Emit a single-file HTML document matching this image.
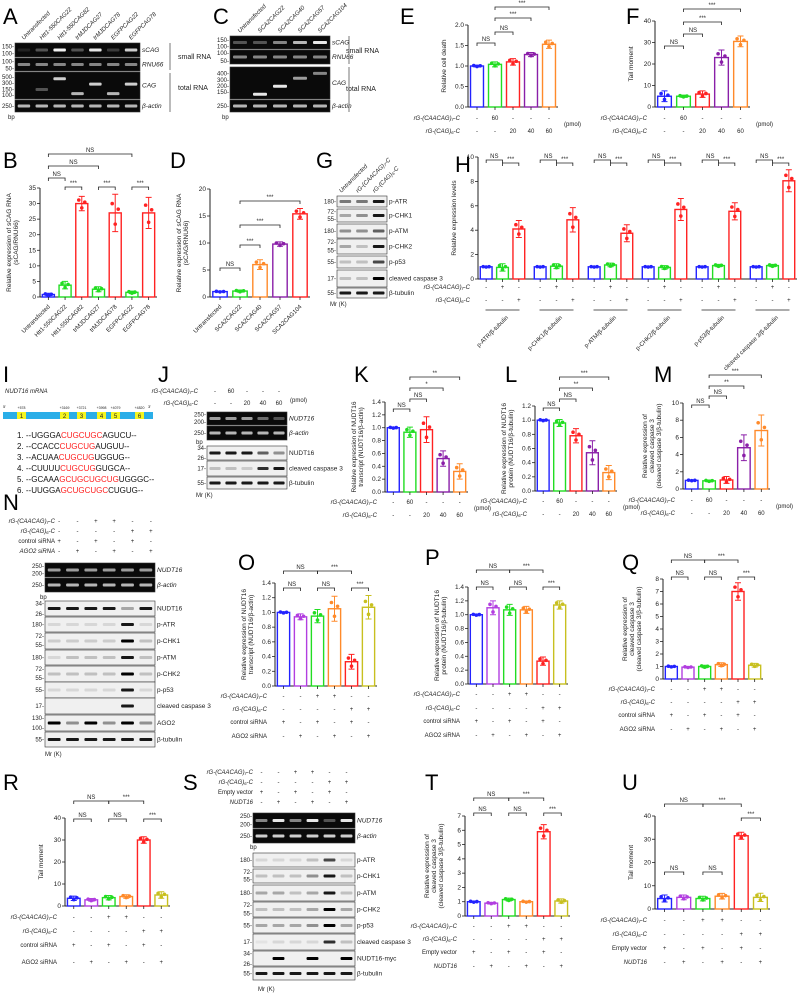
<!DOCTYPE html>
<html><head><meta charset="utf-8">
<style>
html,body{margin:0;padding:0;background:#fff;}
svg{display:block;font-family:"Liberation Sans",Arial,sans-serif;}
.pl{font-size:22px;}
.t{font-size:6px;fill:#222;}
.tk{font-size:6.5px;fill:#222;}
.it{font-style:italic;}
</style></head>
<body>
<svg id="fig" width="797" height="993" viewBox="0 0 797 993" xmlns="http://www.w3.org/2000/svg">
<g id="labels">
<text class="pl" x="3" y="24">A</text><text class="pl" x="213" y="24">C</text>
<text class="pl" x="400" y="24">E</text><text class="pl" x="626" y="24">F</text>
<text class="pl" x="3" y="168">B</text><text class="pl" x="170" y="168">D</text>
<text class="pl" x="316" y="168">G</text><text class="pl" x="455" y="172">H</text>
<text class="pl" x="3" y="382">I</text><text class="pl" x="158" y="382">J</text>
<text class="pl" x="354" y="382">K</text><text class="pl" x="505" y="382">L</text>
<text class="pl" x="654" y="382">M</text><text class="pl" x="3" y="510">N</text>
<text class="pl" x="238" y="570">O</text><text class="pl" x="425" y="565">P</text>
<text class="pl" x="622" y="570">Q</text><text class="pl" x="3" y="790">R</text>
<text class="pl" x="183" y="790">S</text><text class="pl" x="425" y="790">T</text>
<text class="pl" x="622" y="790">U</text>
</g>
<g id="mrna">
<text class="t it" x="5" y="393">NUDT16 mRNA</text>
<text class="t" x="3" y="408" style="font-size:4px">5'</text><text class="t" x="148" y="408" style="font-size:4px">3'</text>
<rect x="3" y="412" width="150" height="7" fill="#2aaee8"/>
</g>
</svg>
<script>
// ---------- chart data ----------
const bVals=[0.8,3.8,30,2.5,27,1.5,27];
const bErr=[0.4,1.2,2.3,0.8,6,0.4,5];
const dVals=[1,1.1,6,9.8,15.4];
const dErr=[0.1,0.2,0.9,0.4,1];
const eVals=[1,1.04,1.1,1.28,1.53];
const eErr=[0.02,0.06,0.08,0.05,0.1];
const fVals=[5,5,6,23,30.5];
const fErr=[2.5,0.5,1.5,3.5,2.5];
const hVals=[1,0.95,4.1,1,1.05,4.85,1,1.15,3.75,1,0.95,5.7,1,1.1,5.55,1,1.1,8.05];
const hErr=[0.03,0.3,0.7,0.03,0.2,1,0.03,0.15,0.7,0.03,0.15,0.9,0.03,0.1,0.7,0.03,0.1,0.9];
const kVals=[1,0.93,0.97,0.52,0.32];
const kErr=[0.01,0.08,0.2,0.12,0.12];
const lVals=[1,0.96,0.78,0.54,0.26];
const lErr=[0.01,0.05,0.1,0.17,0.1];
const mVals=[1,0.95,1.05,4.8,6.8];
const mErr=[0.05,0.1,0.4,1.5,1.8];
const oVals=[1,0.94,0.95,1.05,0.33,1.07];
const oErr=[0.01,0.04,0.09,0.17,0.1,0.16];
const pVals=[1,1.1,1.07,1.07,0.33,1.14];
const pErr=[0.01,0.1,0.08,0.05,0.06,0.06];
const qVals=[1,0.95,1.0,1.15,7,1.1];
const qErr=[0.05,0.05,0.1,0.15,0.7,0.15];
const rVals=[3.5,2.8,3.8,4.3,30,5];
const rErr=[1,0.6,1,0.8,1.5,1.5];
const tVals=[1,0.9,1.15,1.0,5.9,1.05];
const tErr=[0.05,0.05,0.1,0.05,0.5,0.15];
const uVals=[4.5,5,4.5,5.5,31.5,5];
const uErr=[1.5,1,1,1.2,1.5,1.8];
const bCats=["Untransfected","Htt1-550CAG22","Htt1-550CAG82","trMJDCAG27","trMJDCAG78","EGFPCAG22","EGFPCAG78"];
const dCats=["Untransfected","SCA2CAG22","SCA2CAG40","SCA2CAG57","SCA2CAG104"];
const hCats=["p-ATR/β-tubulin","p-CHK1/β-tubulin","p-ATM/β-tubulin","p-CHK2/β-tubulin","p-p53/β-tubulin","cleaved caspase 3/β-tubulin"];
const doseRowsA=["-","60","-","-","-"];
const doseRowsB=["-","-","20","40","60"];
const sixA=["-","-","+","+","-","-"];
const sixB=["-","-","-","-","+","+"];
const sixC=["+","-","+","-","+","-"];
const sixD=["-","+","-","+","-","+"];
const hA=["-","+","-"], hB=["-","-","+"];

const B="#2222ff",G="#22dd22",R="#ff2222",O="#ff8a2a",P="#8a1fa8",V="#b23ee0",Y="#c8c020";
const svg=document.getElementById('fig');
const NS="http://www.w3.org/2000/svg";
function mk(tag,at,parent){const e=document.createElementNS(NS,tag);for(const k in at)e.setAttribute(k,at[k]);(parent||svg).appendChild(e);return e;}
function txt(x,y,s,cls,anchor,parent,extra){const e=mk('text',Object.assign({x:x,y:y,class:cls||'t','text-anchor':anchor||'start'},extra||{}),parent);e.textContent=s;return e;}

function chart(id,c){
  const g=mk('g',{});
  
  
  const n=c.vals.length, gs=c.group||n, ng=Math.ceil(n/gs);
  const gap=c.ggap||0;
  const slot=(c.xEnd-c.x0-gap*(ng-1))/n;
  const xc=i=>c.x0+slot*(i+0.5)+gap*Math.floor(i/gs);
  const ys=v=>c.yBot-(v/c.ymax)*(c.yBot-c.yTop);
  mk('line',{x1:c.x0,y1:c.yTop,x2:c.x0,y2:c.yBot,stroke:'#222','stroke-width':1},g);
  mk('line',{x1:c.x0,y1:c.yBot,x2:c.xEnd,y2:c.yBot,stroke:'#222','stroke-width':1},g);
  for(let v=0;v<=c.ymax+1e-9;v+=c.step){
    const y=ys(v);
    mk('line',{x1:c.x0-3,y1:y,x2:c.x0,y2:y,stroke:'#222','stroke-width':0.8},g);
    txt(c.x0-4,y+2,c.fmt?v.toFixed(c.fmt):String(Math.round(v)),'tk','end',g);
  }
  if(c.ylab){const lines=c.ylab;lines.forEach((l,k)=>{
    const lx=c.x0-22-(lines.length-1-k)*7;const ly=(c.yTop+c.yBot)/2;
    txt(lx,ly,l,'t','middle',g,{transform:`rotate(-90 ${lx} ${ly})`,style:'font-size:6.5px'});});}
  const bw=slot*0.72;
  c.vals.forEach((v,i)=>{
    const col=c.cols[i%c.cols.length];const x=xc(i);const y=ys(v);
    const r=mk('rect',{x:x-bw/2,y:y,width:bw,height:c.yBot-y,fill:'#fff',stroke:col,'stroke-width':1.4},g);
    
    
    const e=c.errs[i];
    mk('path',{d:`M${x} ${ys(v+e)}V${ys(Math.max(0,v-e))}M${x-3} ${ys(v+e)}h6M${x-3} ${ys(Math.max(0,v-e))}h6`,stroke:col,'stroke-width':1,fill:'none'},g);
    [-2.5,0,2.5].forEach((dx,k)=>{const dv=[0.5,-0.6,0.2][k]*e;
      mk('circle',{cx:x+dx*bw/10,cy:ys(Math.max(0,v+dv)),r:1.8,fill:col},g);});
    mk('line',{x1:x,y1:c.yBot,x2:x,y2:c.yBot+3,stroke:'#222','stroke-width':0.8},g);
  });
  if(c.rows){c.rows.forEach((row,k)=>{
    const y=c.rowY[k];
    if(c.rowLab)txt(c.x0-(c.rowLabDx||8),y,c.rowLab[k],'t'+(c.rowIt&&c.rowIt[k]?' it':''),'end',g);
    row.forEach((s,i)=>txt(xc(i),y,s,'t','middle',g));
    if(c.unit&&k===c.unitRow)txt(c.xEnd+6,y+(c.unitDy||0),c.unit,'t','start',g);
  });}
  if(c.cats){c.cats.forEach((s,i)=>{const x=xc(i)+2,y=c.yBot+10;
    txt(x,y,s,'t','end',g,{transform:`rotate(-45 ${x} ${y})`});});}
  if(c.br){c.br.forEach(b=>{const x1=xc(b[0]),x2=xc(b[1]),y=b[3];
    mk('path',{d:`M${x1} ${y+3}V${y}H${x2}V${y+3}`,stroke:'#222','stroke-width':0.8,fill:'none'},g);
    txt((x1+x2)/2,y-2,b[2],'t','middle',g);});}
  return {xc,ys};
}

chart('chart-b',{x0:40,xEnd:157,yTop:188,yBot:297,ymax:35,step:5,vals:bVals,errs:bErr,cols:[B,G,R,G,R,G,R],
  ylab:["Relative expression of sCAG RNA","(sCAG/RNU66)"],cats:bCats,
  br:[[0,1,"NS",178],[0,3,"NS",166],[0,5,"NS",154],[1,2,"***",187],[3,4,"***",187],[5,6,"***",187]]});
chart('chart-d',{x0:210,xEnd:310,yTop:189,yBot:297,ymax:20,step:5,vals:dVals,errs:dErr,cols:[B,G,O,P,R],
  ylab:["Relative expression of sCAG RNA","(sCAG/RNU66)"],cats:dCats,
  br:[[0,1,"NS",268],[1,2,"***",245],[1,3,"***",225],[1,4,"***",201]]});
chart('chart-e',{x0:468,xEnd:558,yTop:25,yBot:107,ymax:2,step:0.5,fmt:1,vals:eVals,errs:eErr,cols:[B,G,R,P,O],
  ylab:["Relative cell death"],rows:[doseRowsA,doseRowsB],rowY:[120,133],rowLab:["rG-(CAACAG)₇-C","rG-(CAG)₆-C"],rowIt:[1,1],unit:"(pmol)",unitRow:0,unitDy:6,
  br:[[0,1,"NS",43],[1,2,"NS",32],[1,3,"***",18],[1,4,"***",7]]});
chart('chart-f',{x0:655,xEnd:750,yTop:21,yBot:107,ymax:40,step:10,vals:fVals,errs:fErr,cols:[B,G,R,P,O],
  ylab:["Tail moment"],rows:[doseRowsA,doseRowsB],rowY:[120,133],rowLab:["rG-(CAACAG)₇-C","rG-(CAG)₆-C"],rowIt:[1,1],unit:"(pmol)",unitRow:0,unitDy:6,
  br:[[0,1,"NS",46],[1,2,"NS",34],[1,3,"***",22],[1,4,"***",9]]});
chart('chart-h',{x0:478,xEnd:797,yTop:157,yBot:279,ymax:10,step:2,vals:hVals,errs:hErr,cols:[B,G,R],group:3,ggap:5,
  ylab:["Relative expression levels"],rows:[hA.concat(hA,hA,hA,hA,hA),hB.concat(hB,hB,hB,hB,hB)],rowY:[289,302],rowLab:["rG-(CAACAG)₇-C","rG-(CAG)₆-C"],rowIt:[1,1],
  br:[[0,1,"NS",160],[1,2,"***",163],[3,4,"NS",160],[4,5,"***",163],[6,7,"NS",160],[7,8,"***",163],[9,10,"NS",160],[10,11,"***",163],[12,13,"NS",160],[13,14,"***",163],[15,16,"NS",160],[16,17,"***",163]]});
(function(){const g=svg.lastChild;const slot=(797-478-25)/18;
  hCats.forEach((s,k)=>{const xm=478+slot*(3*k+1.5)+5*k;
    mk('line',{x1:xm-17,y1:310,x2:xm+17,y2:310,stroke:'#222','stroke-width':0.8},g);
    txt(xm+6,318,s,'t','end',g,{transform:`rotate(-45 ${xm+6} 318)`});});})();
chart('chart-k',{x0:385,xEnd:468,yTop:402,yBot:492,ymax:1.4,step:0.2,fmt:1,vals:kVals,errs:kErr,cols:[B,G,R,P,O],
  ylab:["Relative expression of NUDT16","transcript (NUDT16/β-actin)"],rows:[doseRowsA,doseRowsB],rowY:[504,517],rowLab:["rG-(CAACAG)₇-C","rG-(CAG)₆-C"],rowIt:[1,1],unit:"(pmol)",unitRow:0,unitDy:6,
  br:[[0,1,"NS",409],[1,2,"NS",399],[1,3,"*",388],[1,4,"**",377]]});
chart('chart-l',{x0:535,xEnd:617,yTop:406,yBot:491,ymax:1.2,step:0.2,fmt:1,vals:lVals,errs:lErr,cols:[B,G,R,P,O],
  ylab:["Relative expression of NUDT16","protein (NUDT16/β-tubulin)"],rows:[doseRowsA,doseRowsB],rowY:[503,516],rowLab:["rG-(CAACAG)₇-C","rG-(CAG)₆-C"],rowIt:[1,1],unit:"(pmol)",unitRow:0,unitDy:6,
  br:[[0,1,"NS",408],[1,2,"NS",399],[1,3,"**",388],[1,4,"***",377]]});
chart('chart-m',{x0:683,xEnd:770,yTop:403,yBot:489,ymax:10,step:2,vals:mVals,errs:mErr,cols:[B,G,R,P,O],
  ylab:["Relative expression of","cleaved caspase 3","(cleaved caspase 3/β-tubulin)"],rows:[doseRowsA,doseRowsB],rowY:[502,515],rowLab:["rG-(CAACAG)₇-C","rG-(CAG)₆-C"],rowIt:[1,1],unit:"(pmol)",unitRow:0,unitDy:6,
  br:[[0,1,"NS",405],[1,2,"NS",396],[1,3,"**",386],[1,4,"***",375]]});
const sixLab=["rG-(CAACAG)₇-C","rG-(CAG)₆-C","control siRNA","AGO2 siRNA"];
const sixLabS=["rG-(CAACAG)₇-C","rG-(CAG)₆-C","Empty vector","NUDT16"];
chart('chart-o',{x0:275,xEnd:377,yTop:583,yBot:686,ymax:1.4,step:0.2,fmt:1,vals:oVals,errs:oErr,cols:[B,V,G,O,R,Y],
  ylab:["Relative expression of NUDT16","transcript (NUDT16/β-actin)"],rows:[sixA,sixB,sixC,sixD],rowY:[698,711,724,738],rowLab:sixLab,rowIt:[1,1,0,0],
  br:[[0,1,"NS",588],[2,3,"NS",588],[4,5,"***",588],[0,2,"NS",571],[2,4,"***",571]]});
chart('chart-p',{x0:468,xEnd:568,yTop:587,yBot:684,ymax:1.4,step:0.2,fmt:1,vals:pVals,errs:pErr,cols:[B,V,G,O,R,Y],
  ylab:["Relative expression of NUDT16","protein (NUDT16/β-tubulin)"],rows:[sixA,sixB,sixC,sixD],rowY:[696,710,723,737],rowLab:sixLab,rowIt:[1,1,0,0],
  br:[[0,1,"NS",587],[2,3,"NS",587],[4,5,"***",587],[0,2,"NS",570],[2,4,"***",570]]});
chart('chart-q',{x0:663,xEnd:763,yTop:579,yBot:679,ymax:8,step:1,vals:qVals,errs:qErr,cols:[B,V,G,O,R,Y],
  ylab:["Relative expression of","cleaved caspase 3","(cleaved caspase 3/β-tubulin)"],rows:[sixA,sixB,sixC,sixD],rowY:[691,704,717,731],rowLab:sixLab,rowIt:[1,1,0,0],
  br:[[0,1,"NS",577],[2,3,"NS",577],[4,5,"***",577],[0,2,"NS",560],[2,4,"***",560]]});
chart('chart-r',{x0:65,xEnd:170,yTop:818,yBot:906,ymax:40,step:10,vals:rVals,errs:rErr,cols:[B,V,G,O,R,Y],
  ylab:["Tail moment"],rows:[sixA,sixB,sixC,sixD],rowY:[919,933,947,964],rowLab:sixLab,rowIt:[1,1,0,0],
  br:[[0,1,"NS",819],[2,3,"NS",819],[4,5,"***",819],[0,2,"NS",801],[2,4,"***",801]]});
chart('chart-t',{x0:465,xEnd:570,yTop:816,yBot:916,ymax:7,step:1,vals:tVals,errs:tErr,cols:[B,V,G,O,R,Y],
  ylab:["Relative expression of","cleaved caspase 3","(cleaved caspase 3/β-tubulin)"],rows:[sixA,sixB,sixC,sixD],rowY:[928,941,954,968],rowLab:sixLabS,rowIt:[1,1,0,1],
  br:[[0,1,"NS",813],[2,3,"NS",813],[4,5,"***",813],[0,2,"NS",798],[2,4,"***",798]]});
chart('chart-u',{x0:655,xEnd:770,yTop:816,yBot:909,ymax:40,step:10,vals:uVals,errs:uErr,cols:[B,V,G,O,R,Y],
  ylab:["Tail moment"],rows:[sixA,sixB,sixC,sixD],rowY:[922,936,950,964],rowLab:sixLabS,rowIt:[1,1,0,1],
  br:[[0,1,"NS",872],[2,3,"NS",872],[4,5,"***",818],[0,2,"NS",804],[2,4,"***",804]]});

// ---------- blots ----------
function blot(name,x,w,rows,lanes){
  const g=mk('g',{});
  
  
  rows.forEach(r=>{
    const [y,h,dark,lab,mark,ints,it,pos]=r;
    mk('rect',{x:x,y:y,width:w,height:h,fill:dark?'#0a0a0a':'#f0f0f0',stroke:'#333','stroke-width':0.6},g);
    const lw=w/lanes;
    for(let i=0;i<lanes;i++){const a=ints[i]!==undefined?ints[i]:ints[0];
      const cy=pos?y+h*pos[i]:y+h/2;
      if(a>0)mk('rect',{x:x+lw*i+lw*0.15,y:cy-1.5,width:lw*0.7,height:3,rx:1,fill:dark?'#fff':'#000','fill-opacity':a},g);}
    txt(x+w+2,y+h/2+2,lab,'t'+(it?' it':''),'start',g,{style:'font-size:6.5px'});
    if(Array.isArray(mark)){mark.forEach(m=>txt(x-1,y+h*m[1]+2,m[0]+'-','t','end',g));}
    else if(mark)txt(x-1,y+h/2+2,mark,'t','end',g);
  });
  return g;
}
blot('gel-a',15,125,[[43,14,1,'sCAG',[['150',0.25],['100',0.75]],[0.1,0.3,0.95,0.3,0.9,0.2,0.8],1],[58,13,1,'RNU66',[['100',0.25],['50',0.8]],[0.5],1],[72,27,1,'CAG',[['500',0.18],['300',0.4],['150',0.65],['100',0.85]],[0,0.3,0.8,0.7,0.8,0.7,0.8],1,[0.5,0.65,0.25,0.8,0.45,0.8,0.45]],[100,12,1,'β-actin','250-',[0.7],1]],7);
blot('gel-c',230,100,[[36,13,1,'sCAG',[['150',0.3],['100',0.8]],[0.3,0.3,0.5,0.7,0.9],1],[50,14,1,'RNU66',[['100',0.2],['50',0.8]],[0.5],1],[67,32,1,'CAG',[['400',0.2],['300',0.4],['200',0.6],['150',0.78]],[0,0.9,0.9,0.6,0.5],1,[0.5,0.85,0.6,0.35,0.2]],[100,12,1,'β-actin','250-',[0.7],1]],5);
blot('blot-g',337,50,[[196,11,0,'p-ATR','180-',[0.5,0.5,0.9]],[209,13,0,'p-CHK1',[['72',0.2],['55',0.75]],[0.3,0.4,0.9]],[224,14,0,'p-ATM','180-',[0.4,0.4,0.6]],[239,15,0,'p-CHK2',[['72',0.2],['55',0.75]],[0.3,0.2,0.9]],[256,12,0,'p-p53','55-',[0.2,0.2,0.7]],[270,17,0,'cleaved caspase 3','17-',[0.2,0.2,1]],[288,10,0,'β-tubulin','55-',[0.9]]],3);
blot('blot-j',207,80,[[412,13,1,'NUDT16',[['250',0.2],['200',0.75]],[0.6,0.6,0.6,0.4,0.3],1],[426,14,1,'β-actin','250-',[0.7],1],[446,14,0,'NUDT16',[['34',0.15],['26',0.85]],[0.9,0.9,0.9,0.6,0.4]],[461,15,0,'cleaved caspase 3','17-',[0.2,0.2,0.15,0.8,0.9]],[477,12,0,'β-tubulin','55-',[0.9]]],5);
blot('blot-n',45,110,[[563,14,1,'NUDT16',[['250',0.2],['200',0.75]],[0.6],1],[578,14,1,'β-actin','250-',[0.7],1],[601,15,0,'NUDT16',[['34',0.15],['26',0.85]],[0.9,0.9,0.9,0.9,0.3,0.9]],[617,15,0,'p-ATR','180-',[0.1,0.1,0.1,0.1,0.9,0.1]],[633,16,0,'p-CHK1',[['72',0.2],['55',0.75]],[0.15,0.15,0.15,0.15,1,0.2]],[650,15,0,'p-ATM','180-',[0.1,0.2,0.2,0.2,0.9,0.2]],[666,16,0,'p-CHK2',[['72',0.2],['55',0.75]],[0.2,0.2,0.2,0.2,1,0.2]],[682,16,0,'p-p53','55-',[0.1,0.1,0.1,0.1,0.9,0.1]],[698,16,0,'cleaved caspase 3','17-',[0,0,0,0,0.9,0]],[715,16,0,'AGO2',[['130',0.2],['100',0.8]],[1,0.4,1,0.4,1,0.4]],[732,15,0,'β-tubulin','55-',[0.9]]],6);
blot('blot-s',253,102,[[813,15,1,'NUDT16',[['250',0.2],['200',0.75]],[0.5,0.9,0.5,0.9,0.3,0.9],1],[829,14,1,'β-actin','250-',[0.8],1],[853,14,0,'p-ATR','180-',[0.1,0.1,0.1,0.2,0.7,0.1]],[869,14,0,'p-CHK1',[['72',0.2],['55',0.75]],[0.2,0.2,0.2,0.4,0.9,0.2]],[885,16,0,'p-ATM','180-',[0.3,0.3,0.2,0.3,0.9,0.2]],[902,15,0,'p-CHK2',[['72',0.2],['55',0.75]],[0.2,0.2,0.2,0.3,1,0.3]],[918,15,0,'p-p53','55-',[0.3,0.3,0.3,0.4,1,0.3]],[934,16,0,'cleaved caspase 3','17-',[0.05,0.1,0.1,0.1,0.8,0.2]],[951,15,0,'NUDT16-myc',[['34',0.15],['26',0.85]],[0,1,0,1,0,1]],[967,13,0,'β-tubulin','55-',[0.9]]],6);

// blot side labels & headers
[['small RNA',178,59],['total RNA',178,90],['small RNA',346,53],['total RNA',346,91]].forEach(a=>txt(a[1],a[2],a[0],'t','start',null,{style:'font-size:7px'}));
[[170,43,70],[170,73,112],[349,36,64],[349,67,112]].forEach(a=>mk('line',{x1:a[0],y1:a[1],x2:a[0],y2:a[2],stroke:'#555','stroke-width':0.8}));
txt(8,119,'bp','t');txt(222,119,'bp','t');txt(330,306,'Mr (K)','t');txt(196,497,'Mr (K)','t');txt(45,756,'Mr (K)','t');txt(258,991,'Mr (K)','t');
txt(196,444,'bp','t');txt(40,599,'bp','t');txt(250,849,'bp','t');
bCats.forEach((s,i)=>{const x=15+125/7*(i+0.5);txt(x,40,s,'t it','start',null,{transform:`rotate(-45 ${x} 40)`});});
dCats.forEach((s,i)=>{const x=230+20*(i+0.5);txt(x,33,s,'t it','start',null,{transform:`rotate(-45 ${x} 33)`});});
["Untransfected","rG-(CAACAG)₇-C","rG-(CAG)₆-C"].forEach((s,i)=>{const x=337+16.7*(i+0.5)-4;txt(x,193,s,'t it','start',null,{transform:`rotate(-45 ${x} 193)`});});
// J header
['rG-(CAACAG)₇-C','rG-(CAG)₆-C'].forEach((s,k)=>{txt(198,393+k*12,s,'t it','end');[doseRowsA,doseRowsB][k].forEach((v,i)=>txt(207+80/5*(i+0.5),393+k*12,v,'t','middle'));});
txt(290,402,'(pmol)','t');
// N header
sixLab.forEach((s,k)=>{txt(55,523+k*10,s,'t'+(k<2||k==3?' it':''),'end');[sixA,sixB,sixC,sixD][k].forEach((v,i)=>txt(62+110/6*(i+0.5)-12,523+k*10,v,'t','middle'));});
// S header
sixLabS.forEach((s,k)=>{txt(253,774+k*10,s,'t'+(k!=2?' it':''),'end');[sixA,sixB,sixC,sixD][k].forEach((v,i)=>txt(253+102/6*(i+0.5),774+k*10,v,'t','middle'));});
// mRNA motifs
const mBoxes=[[17,'1'],[60,'2'],[77,'3'],[97,'4'],[111,'5'],[135,'6']];
const mLab=['+578','+3169','+3721','+3998','+4079','+4820'];
const mg=document.getElementById('mrna');
mBoxes.forEach((b,i)=>{mk('rect',{x:b[0],y:412,width:9,height:7,fill:'#f5f520'},mg);txt(b[0]+4.5,418,b[1],'t','middle',mg);txt(b[0]+4.5,409,mLab[i],'t','middle',mg,{style:'font-size:3.5px'});});
const seqs=[["1. --UGGGA","CUGCUGC","AGUCU--"],["2. --CCACC","CUGCUG","AUGUU--"],["3. --ACUAA","CUGCUG","UGGUG--"],["4. --CUUUU","CUGCUG","GUGCA--"],["5. --GCAAA","GCUGCUGCUG","UGGGC--"],["6. --UUGGA","GCUGCUGC","CUGUG--"]];
seqs.forEach((s,k)=>{const e=mk('text',{x:17,y:438+k*11,style:'font-size:8px'},mg);
  s.forEach((p,j)=>{const t=mk('tspan',{fill:j==1?'#ff2020':'#111'},e);t.textContent=p;});});
</script>
</body></html>
